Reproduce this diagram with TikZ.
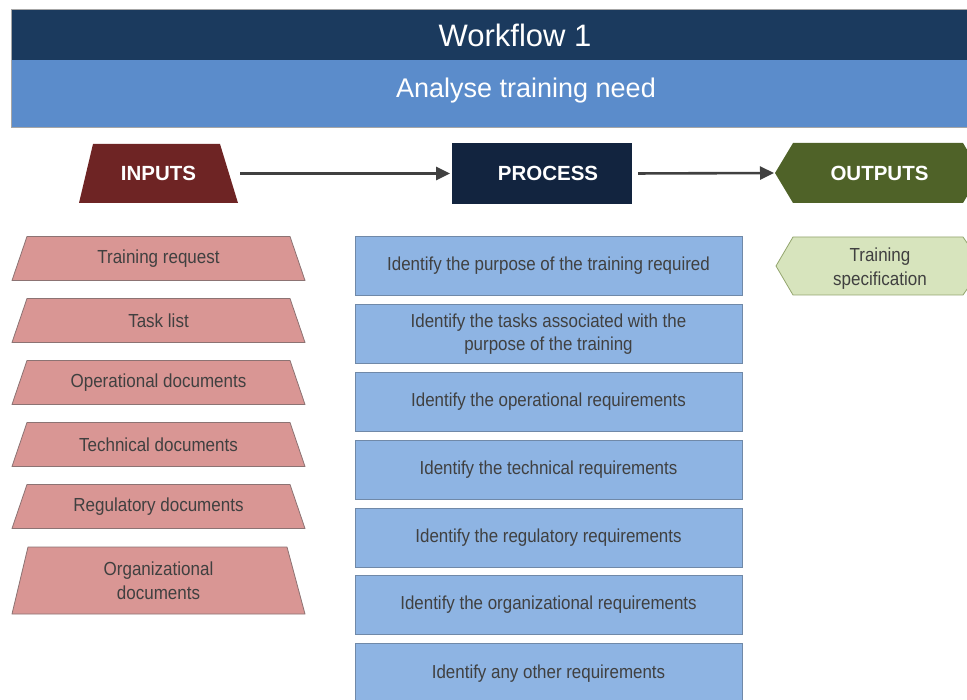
\documentclass[tikz,border=0pt]{standalone}
\usepackage{fontspec}
\setmainfont{Liberation Sans}
\newfontfamily\bodyfont{Liberation Sans}[FakeStretch=0.9]
\usetikzlibrary{arrows.meta,backgrounds}
\definecolor{headdark}{HTML}{1B3A5E}
\definecolor{headlight}{HTML}{5B8CCB}
\definecolor{inred}{HTML}{6E2424}
\definecolor{procnavy}{HTML}{12243F}
\definecolor{outgreen}{HTML}{4F6228}
\definecolor{pinkfill}{HTML}{D99694}
\definecolor{pinkline}{HTML}{8C7373}
\definecolor{bluefill}{HTML}{8EB4E3}
\definecolor{blueline}{HTML}{7089A8}
\definecolor{greenfill}{HTML}{D7E4BD}
\definecolor{greenline}{HTML}{93A56E}
\definecolor{txt}{HTML}{404040}
\definecolor{arrowgray}{HTML}{404040}
\tikzset{
  headtext/.style={text=white, inner sep=0pt},
  labeltext/.style={text=white, font=\fontsize{20.5}{23}\selectfont\bfseries},
  plainbox/.style={rectangle, inner sep=0pt, outer sep=0pt, align=center},
  inbox/.style={plainbox, text=txt, font=\bodyfont\fontsize{18.9}{23.5}\selectfont,
    minimum width=293pt},
  inshape/.style={draw=pinkline, fill=pinkfill, line width=0.8pt, line join=round},
  procbox/.style={plainbox, draw=blueline, fill=bluefill, line width=0.8pt,
    minimum width=387pt, minimum height=59pt,
    text=txt, font=\bodyfont\fontsize{18.8}{23}\selectfont},
  flow/.style={-{Triangle[length=14pt,width=13pt]}, line width=2.6pt, draw=arrowgray},
}
\begin{document}
\begin{tikzpicture}[x=1pt,y=-1pt]
\useasboundingbox (0,0) rectangle (967,700);
\clip (0,0) rectangle (967,700);
\begin{scope}[on background layer]
  \fill[white] (0,0) rectangle (967,700);
\end{scope}

% header bands
\fill[headdark] (11,9) rectangle (1000,60);
\fill[headlight] (11,60) rectangle (1000,127);
\draw[gray!70, line width=0.6pt] (11,9) rectangle (1000,127);
\node[headtext, font=\fontsize{31}{34}\selectfont] (wf) at (515,35) {Workflow 1};
\node[headtext, font=\fontsize{27}{30}\selectfont] (atn) at (526,91) {Analyse training need};

% column heads
\node[plainbox, minimum width=159pt, minimum height=59pt, labeltext] (in) at (158.5,173.5) {INPUTS};
\node[plainbox, fill=procnavy, minimum width=180pt, minimum height=61pt, labeltext] (proc) at (542,173.5) {\hspace*{12pt}PROCESS};
\node[plainbox, minimum width=206pt, minimum height=60pt, labeltext] (out) at (878,173) {\hspace*{3pt}OUTPUTS};
\begin{scope}[on background layer]
  \fill[inred] ([xshift=14pt]in.north west) -- ([xshift=-18pt]in.north east)
    -- (in.south east) -- (in.south west) -- cycle;
  \fill[outgreen] (out.west) -- ([xshift=18pt]out.north west) -- ([xshift=-18pt]out.north east)
    -- (out.east) -- ([xshift=-18pt]out.south east) -- ([xshift=18pt]out.south west) -- cycle;
\end{scope}

\draw[flow, shorten <=2pt, shorten >=2pt] (in.east) -- (proc.west);
\draw[flow, shorten <=6pt, shorten >=1pt] (proc.east) -- (out.west);

% inputs
\node[inbox, minimum height=44pt] (i1) at (158.5,258.5) {Training request};
\node[inbox, minimum height=44pt] (i2) at (158.5,320.5) {Task list};
\node[inbox, minimum height=44pt] (i3) at (158.5,382.5) {Operational documents};
\node[inbox, minimum height=44pt] (i4) at (158.5,444.5) {Technical documents};
\node[inbox, minimum height=44pt] (i5) at (158.5,506.5) {Regulatory documents};
\node[inbox, minimum height=67pt] (i6) at (158.5,580.5) {Organizational\\documents};
\begin{scope}[on background layer]
  \foreach \n/\l/\r in {i1/15/15, i2/15/15, i3/15/15, i4/15/15, i5/15/15, i6/16/18}{
    \filldraw[inshape] ([xshift=\l pt]\n.north west) -- ([xshift=-\r pt]\n.north east)
      -- (\n.south east) -- (\n.south west) -- cycle;
  }
\end{scope}

% process steps
\node[procbox] (p1) at (548.5,266) {Identify the purpose of the training required};
\node[procbox] (p2) at (548.5,334) {Identify the tasks associated with the\\purpose of the training};
\node[procbox] (p3) at (548.5,402) {Identify the operational requirements};
\node[procbox] (p4) at (548.5,469.5) {Identify the technical requirements};
\node[procbox] (p5) at (548.5,537.5) {Identify the regulatory requirements};
\node[procbox] (p6) at (548.5,605) {Identify the organizational requirements};
\node[procbox, minimum height=62pt] (p7) at (548.5,674) {Identify any other requirements};

% outputs
\node[plainbox, minimum width=206pt, minimum height=58pt, text=txt,
  font=\bodyfont\fontsize{18.9}{24}\selectfont] (o1) at (880,268.5) {Training\\specification};
\begin{scope}[on background layer]
  \filldraw[fill=greenfill, draw=greenline, line width=0.8pt, line join=round]
    ([xshift=-1pt,yshift=2.5pt]o1.west) -- ([xshift=16pt,yshift=2.5pt]o1.north west)
    -- ([xshift=-20pt,yshift=2.5pt]o1.north east) -- ([yshift=2.5pt]o1.east)
    -- ([xshift=-20pt,yshift=2.5pt]o1.south east) -- ([xshift=16pt,yshift=2.5pt]o1.south west) -- cycle;
\end{scope}
\end{tikzpicture}
\end{document}
